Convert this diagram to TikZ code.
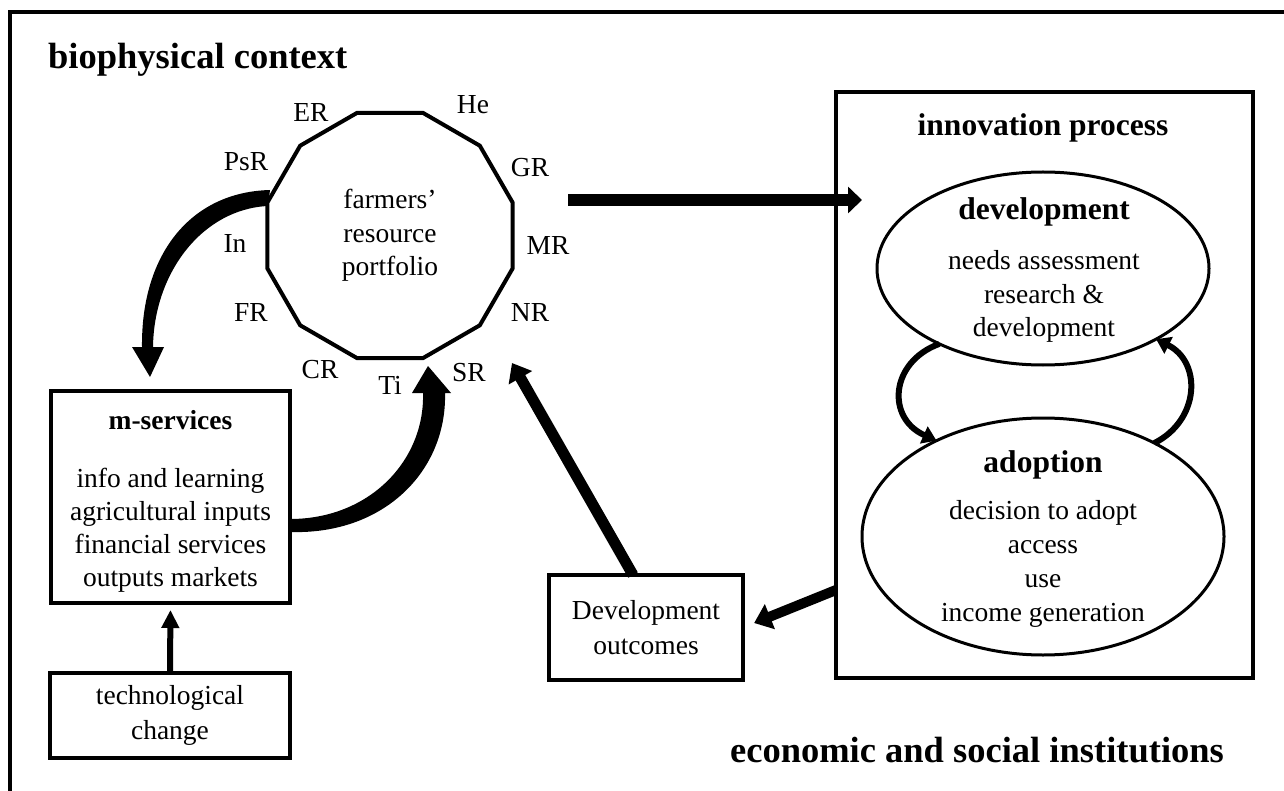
\documentclass[tikz,border=0pt]{standalone}
\usepackage{fontspec}
\setmainfont{Liberation Serif}
\usetikzlibrary{shapes.geometric,arrows.meta}
\begin{document}
\begin{tikzpicture}[x=1pt,y=-1pt,
  txt/.style={font=\fontsize{27.5}{33.5}\selectfont, inner sep=0pt, align=center},
  bighead/.style={font=\bfseries\fontsize{36.5}{40}\selectfont, inner sep=0pt},
  subhead/.style={font=\bfseries\fontsize{31.5}{36}\selectfont, inner sep=0pt},
  boxed/.style={draw, line width=4pt, inner sep=0pt, outer sep=0pt, align=center,
                font=\fontsize{27.5}{35}\selectfont},
  ell/.style={draw, ellipse, line width=3pt, inner sep=0pt, outer sep=0pt},
  fatarrow/.style={line width=12pt, -{Triangle[width=26pt,length=14pt]}},
  medarrow/.style={line width=11pt, -{Triangle[width=26pt,length=17pt]}},
  thinarrow/.style={line width=6pt, -{Triangle[width=17pt,length=18pt]}},
  curl/.style={line width=6pt, -{Triangle[width=18pt,length=14pt]}},
  lbl/.style={font=\fontsize{27.5}{33.5}\selectfont, inner sep=0pt}]
\useasboundingbox (0,0) rectangle (1284,791);
\fill[white] (0,0) rectangle (1284,791);
% outer frame (cropped)
\draw[line width=4pt] (10,791) -- (10,12) -- (1284,12);
% headings
\node[bighead, anchor=west] (bio) at (48,60) {biophysical context};
\node[bighead] (eco) at (977,750) {economic and social institutions};
% resource portfolio
\node[draw, regular polygon, regular polygon sides=12, minimum size=254pt,
      line width=4pt, inner sep=0pt, outer sep=0pt, txt] (poly) at (390,235.5)
      {farmers'\\resource\\portfolio};
\node[lbl] (ER)  at (311,112) {ER};
\node[lbl] (He)  at (473,105) {He};
\node[lbl] (PsR) at (246,162) {PsR};
\node[lbl] (GR)  at (530,168) {GR};
\node[lbl] (In)  at (235,243) {In};
\node[lbl] (MR)  at (548,245) {MR};
\node[lbl] (FR)  at (251,312) {FR};
\node[lbl] (NR)  at (530,312) {NR};
\node[lbl] (CR)  at (320,370) {CR};
\node[lbl] (Ti)  at (390,385) {Ti};
\node[lbl] (SR)  at (469,373) {SR};
% m-services
\node[boxed, minimum width=239pt, minimum height=212pt] (ms) at (170.5,497) {};
\node[font=\bfseries\fontsize{27.5}{33}\selectfont, inner sep=0pt] (mst) at (170.5,420) {m-services};
\node[txt, font=\fontsize{27.5}{33}\selectfont] (msl) at (170.5,530) {info and learning\\agricultural inputs\\financial services\\outputs markets};
% technological change
\node[boxed, minimum width=240pt, minimum height=85pt] (tech) at (170,715.5) {technological\\change};
% development outcomes
\node[boxed, minimum width=194pt, minimum height=105pt] (dout) at (646,627.5) {Development\\outcomes};
% innovation process
\node[draw, line width=3.5pt, minimum width=417pt, minimum height=586pt, inner sep=0pt, outer sep=0pt] (innov) at (1044.5,385) {};
\node[subhead] (ipt) at (1043,128) {innovation process};
\node[ell, minimum width=332pt, minimum height=193pt] (dev) at (1043,268.5) {};
\node[subhead] (devt) at (1044,212) {development};
\node[txt] (devl) at (1044,296.5) {needs assessment\\research \&\\development};
\node[ell, minimum width=362pt, minimum height=237pt] (adp) at (1043,536.5) {};
\node[subhead] (adpt) at (1043,465) {adoption};
\node[txt, font=\fontsize{27.5}{34}\selectfont] (adpl) at (1043,564) {decision to adopt\\access\\use\\income generation};
% connectors
\coordinate (pa) at (568,200);
\coordinate (pb) at (862,200);
\draw[fatarrow] (pa) -- (pb);
\coordinate (srtip) at (512,363);
\draw[medarrow] ([xshift=-13pt]dout.north) -- (srtip);
\coordinate (ia) at (836,590);
\draw[medarrow, line width=10pt, shorten >=12pt] (ia) -- (dout.east);
\draw[thinarrow, shorten >=7pt] (tech.north) -- (ms.south);
\draw[curl] (dev.216) .. controls (890,362) and (886,418) .. (adp.138.4);
\draw[curl] (adp.40) .. controls (1200,420) and (1202,362) .. (dev.328.6);
% tapered curved arrows
\fill (270,190) .. controls (190,192) and (141,255) .. (142,347) -- (132,347) -- (150,377) -- (164,347) -- (153,347) .. controls (154,272) and (203,209) .. (268,206) -- cycle;
\fill (290,532) .. controls (385,535) and (447,470) .. (445,393) -- (451,393) -- (428,366) -- (412,393) -- (423,393) .. controls (425,460) and (370,519) .. (290,519) -- cycle;
\end{tikzpicture}
\end{document}
